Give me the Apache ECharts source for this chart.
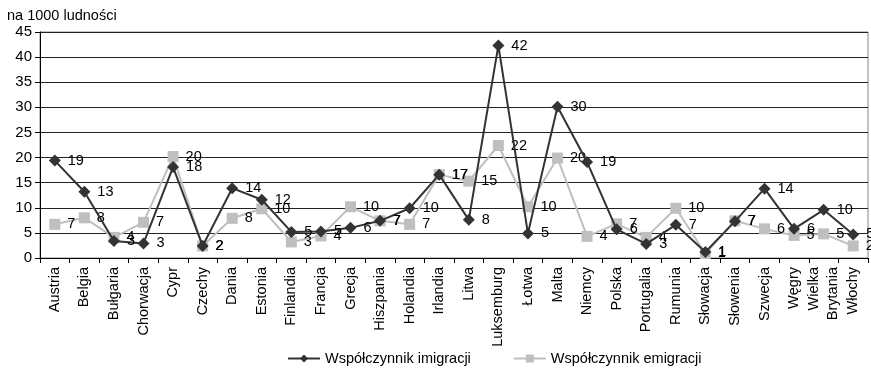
<!DOCTYPE html>
<html><head><meta charset="utf-8">
<script src="https://cdn.jsdelivr.net/npm/echarts@6/dist/echarts.min.js"></script>
<style>html,body{margin:0;padding:0;background:#fff}#c{width:871px;height:377px}</style>
</head><body><div id="c"></div>
<script>
const categories = ['Austria','Belgia','Bułgaria','Chorwacja','Cypr','Czechy','Dania','Estonia','Finlandia','Francja','Grecja','Hiszpania','Holandia','Irlandia','Litwa','Luksemburg','Łotwa','Malta','Niemcy','Polska','Portugalia','Rumunia','Słowacja','Słowenia','Szwecja','Węgry','Wielka\nBrytania','Włochy'];
const immigration = [19.4, 13.2, 3.4, 2.9, 18.1, 2.4, 13.9, 11.6, 5.2, 5.3, 6.0, 7.4, 9.9, 16.6, 7.6, 42.3, 4.9, 30.1, 19.1, 5.7, 2.8, 6.6, 1.2, 7.3, 13.8, 5.8, 9.6, 4.7];
const emigration = [6.7, 8.0, 4.1, 7.1, 20.2, 2.4, 7.9, 9.8, 3.2, 4.4, 10.2, 7.4, 6.7, 16.6, 15.3, 22.4, 10.2, 19.9, 4.3, 6.8, 4.1, 9.9, 0.9, 7.4, 5.8, 4.5, 4.8, 2.4];
const yTicks = {min: 0, max: 45, interval: 5};
const FONT = 'Liberation Sans, Arial, sans-serif';
const chart = echarts.init(document.getElementById('c'), null, {renderer: 'canvas'});
const lbl = {show: true, position: 'right', distance: 7, color: '#000', fontFamily: FONT, fontSize: 14.5, formatter: p => Math.round(p.value)};
chart.setOption({
  animation: false,
  textStyle: {fontFamily: FONT},
  grid: {left: 40, right: 3, top: 32, bottom: 119, show: true, borderColor: '#888', borderWidth: 1},
  legend: {
    bottom: 6, left: 282, itemGap: 42, itemWidth: 32, itemHeight: 10,
    textStyle: {fontFamily: FONT, fontSize: 14.5, color: '#000'},
    data: ['Współczynnik imigracji', 'Współczynnik emigracji']
  },
  xAxis: {
    type: 'category', data: categories, boundaryGap: true,
    axisLine: {lineStyle: {color: '#000', width: 1}},
    axisTick: {show: true, length: 5, lineStyle: {color: '#000'}},
    axisLabel: {rotate: 90, interval: 0, margin: 9, color: '#000', fontFamily: FONT, fontSize: 14.5, lineHeight: 19}
  },
  yAxis: {
    type: 'value', min: yTicks.min, max: yTicks.max, interval: yTicks.interval,
    name: 'na 1000 ludności', nameLocation: 'end', nameGap: 9,
    nameTextStyle: {color: '#000', fontFamily: FONT, fontSize: 14.5, align: 'left', padding: [0, 0, 0, -33]},
    axisLine: {show: true, lineStyle: {color: '#000'}},
    axisTick: {show: true, length: 5, lineStyle: {color: '#000'}},
    axisLabel: {color: '#000', fontFamily: FONT, fontSize: 15, margin: 8},
    splitLine: {lineStyle: {color: '#222', width: 1}}
  },
  series: [
    {name: 'Współczynnik imigracji', type: 'line', data: immigration, symbol: 'diamond', symbolSize: 12,
     itemStyle: {color: '#333'}, lineStyle: {color: '#333', width: 2}, label: lbl, z: 3},
    {name: 'Współczynnik emigracji', type: 'line', data: emigration, symbol: 'rect', symbolSize: 11,
     itemStyle: {color: '#bfbfbf'}, lineStyle: {color: '#bfbfbf', width: 2}, label: lbl, z: 2}
  ]
});
</script></body></html>
